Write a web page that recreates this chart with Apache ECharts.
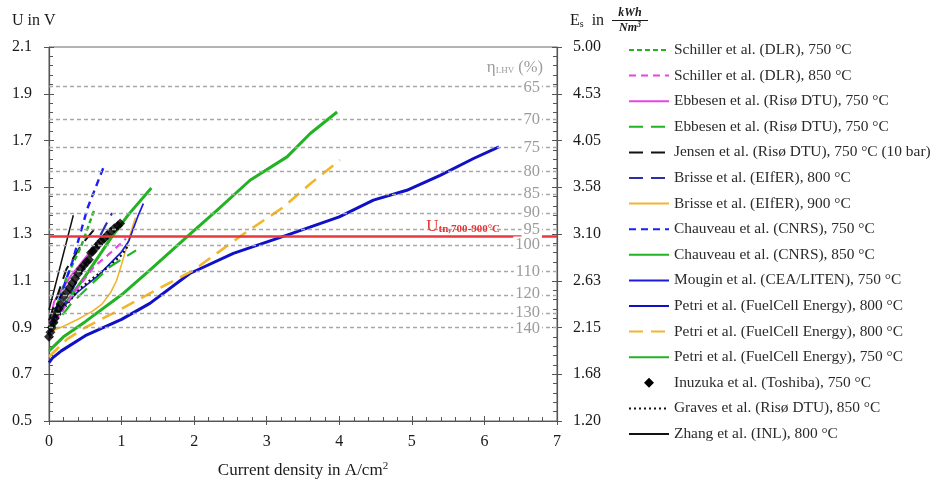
<!DOCTYPE html>
<html>
<head>
<meta charset="utf-8">
<script src="https://cdn.jsdelivr.net/npm/echarts@6/dist/echarts.min.js"></script>
<style>
  html, body { margin: 0; padding: 0; background: #fff; }
  #chart { width: 938px; height: 484px; }
</style>
</head>
<body>
<div id="chart"></div>
<script>
const FONT = '"Liberation Serif", "DejaVu Serif", serif';

// Right axis: specific energy demand labels (kWh/Nm³) at each voltage tick
const energyTickLabels = ['1.20', '1.68', '2.15', '2.63', '3.10', '3.58', '4.05', '4.53', '5.00'];

// LHV efficiency guide lines: label (%) and the matching cell voltage
const effLabels = ['65', '70', '75', '80', '85', '90', '95', '100', '110', '120', '130', '140'];
const effVoltages = [1.928, 1.790, 1.671, 1.566, 1.474, 1.392, 1.319, 1.253, 1.139, 1.044, 0.964, 0.895];

// Thermoneutral voltage band 700-900 °C
const thermoneutralVoltage = 1.288;

// Polarisation curves: [current density A/cm², cell voltage V]
const schiller750  = [[0, 0.90], [0.25, 1.12], [0.44, 1.245], [0.62, 1.40]];
const schiller850  = [[0, 0.88], [0.3, 1.03], [0.62, 1.16], [0.85, 1.22], [1.06, 1.28]];
const ebbesenSolid = [[0, 0.90], [0.07, 1.01], [0.3, 1.12], [0.53, 1.21], [0.67, 1.25]];
const ebbesenDash  = [[0, 0.88], [0.3, 1.0], [0.6, 1.09], [0.84, 1.16], [1.2, 1.23]];
const jensen       = [[0, 0.93], [0.24, 1.15], [0.45, 1.255], [0.65, 1.33]];
const brisse800    = [[0, 0.88], [0.3, 1.05], [0.55, 1.2], [0.7, 1.29], [0.87, 1.39]];
const brisse900    = [[0, 0.88], [0.2, 0.905], [0.4, 0.935], [0.6, 0.97], [0.73, 1.0], [0.85, 1.05],
                      [0.93, 1.1], [1.0, 1.17], [1.07, 1.245], [1.13, 1.31], [1.19, 1.37]];
const chauveau750  = [[0, 0.87], [0.12, 1.0], [0.32, 1.18], [0.53, 1.41], [0.77, 1.6]];
const chauveau850  = [[0, 0.92], [0.2, 0.99], [0.5, 1.12], [0.87, 1.29], [1.1, 1.385], [1.41, 1.497]];
const mougin       = [[0, 0.87], [0.08, 0.945], [0.2, 0.99], [0.39, 1.05], [0.67, 1.12], [0.99, 1.22],
                      [1.1, 1.27], [1.17, 1.33], [1.23, 1.38], [1.3, 1.43]];
const petri800     = [[0, 0.75], [0.05, 0.77], [0.17, 0.80], [0.5, 0.865], [1.0, 0.935], [1.39, 1.003],
                      [1.94, 1.131], [2.54, 1.217], [3.28, 1.295], [4.0, 1.373], [4.47, 1.445],
                      [4.93, 1.487], [5.39, 1.551], [5.85, 1.623], [6.2, 1.673]];
const petri800Dash = [[0, 0.775], [0.25, 0.85], [0.5, 0.90], [1.0, 0.98], [1.39, 1.046], [1.99, 1.145],
                      [2.68, 1.30], [3.23, 1.415], [3.6, 1.515], [4.01, 1.616]];
const petri750     = [[0, 0.80], [0.2, 0.86], [0.5, 0.925], [1.0, 1.04], [1.39, 1.145], [1.9, 1.288],
                      [2.31, 1.40], [2.77, 1.53], [3.28, 1.63], [3.6, 1.73], [3.97, 1.822]];
const inuzuka      = [[0, 0.86], [0.02, 0.88], [0.04, 0.90], [0.06, 0.92], [0.08, 0.94], [0.1, 0.96],
                      [0.13, 0.98], [0.16, 1.0], [0.2, 1.03], [0.24, 1.05], [0.28, 1.07], [0.32, 1.09],
                      [0.36, 1.11], [0.4, 1.13], [0.44, 1.15], [0.48, 1.165], [0.52, 1.18], [0.55, 1.19],
                      [0.58, 1.22], [0.6, 1.225], [0.64, 1.24], [0.68, 1.255], [0.72, 1.27], [0.76, 1.28],
                      [0.8, 1.295], [0.85, 1.31], [0.9, 1.325], [0.95, 1.335], [0.98, 1.345]];
const graves       = [[0, 0.88], [0.2, 0.98], [0.4, 1.06], [0.6, 1.11], [0.8, 1.155], [1.0, 1.21], [1.1, 1.255]];
const zhang        = [[0, 0.975], [0.17, 1.18], [0.335, 1.38]];

// Legend entries in display order
const legendKeys = ['schiller750', 'schiller850', 'ebbesenSolid', 'ebbesenDash', 'jensen', 'brisse800',
  'brisse900', 'chauveau750', 'chauveau850', 'mougin', 'petri800', 'petri800Dash', 'petri750',
  'inuzuka', 'graves', 'zhang'];
const legendLabels = [
  'Schiller et al. (DLR), 750 °C',
  'Schiller et al. (DLR), 850 °C',
  'Ebbesen et al. (Risø DTU), 750 °C',
  'Ebbesen et al. (Risø DTU), 750 °C',
  'Jensen et al. (Risø DTU), 750 °C (10 bar)',
  'Brisse et al. (EIfER), 800 °C',
  'Brisse et al. (EIfER), 900 °C',
  'Chauveau et al. (CNRS), 750 °C',
  'Chauveau et al. (CNRS), 850 °C',
  'Mougin et al. (CEA/LITEN), 750 °C',
  'Petri et al. (FuelCell Energy), 800 °C',
  'Petri et al. (FuelCell Energy), 800 °C',
  'Petri et al. (FuelCell Energy), 750 °C',
  'Inuzuka et al. (Toshiba), 750 °C',
  'Graves et al. (Risø DTU), 850 °C',
  'Zhang et al. (INL), 800 °C'
];

const GREEN = '#22b322', MAGENTA = '#e645e6', BLACK = '#111111', NAVY = '#2e2ea8',
      GOLD = '#f2b52c', BLUE = '#1d1dff', BLUE2 = '#1c1cd8', BLUE3 = '#1010c8';
const LONG = [14, 8], MED = [7, 5], SHORT = [5, 3];

function curve(name, data, color, width, type) {
  return {
    name, type: 'line', data, symbol: 'none', smooth: false,
    lineStyle: { color, width, type: type || 'solid', join: 'round' },
    itemStyle: { color },
    emphasis: { disabled: true }, animation: false, z: 3
  };
}

const chart = echarts.init(document.getElementById('chart'));
const axisColor = '#555';
const labelStyle = { fontFamily: FONT, fontSize: 16, color: '#1a1a1a' };

// Diamond marker used for the Toshiba legend entry (kept square)
const diamondIcon = 'path://M5,0L10,5L5,10L0,5Z';

chart.setOption({
  animation: false,
  grid: { left: 49, right: 381, top: 47, bottom: 63, show: true, borderColor: '#666', borderWidth: 1 },
  xAxis: [
    {
      type: 'value', min: 0, max: 7, interval: 1, position: 'bottom',
      name: '{t|Current density in A/cm}{s|2}', nameLocation: 'middle', nameGap: 40,
      nameTextStyle: { rich: { t: { fontFamily: FONT, fontSize: 17, color: '#1a1a1a' },
                               s: { fontFamily: FONT, fontSize: 11, color: '#1a1a1a', verticalAlign: 'top', padding: [0, 0, 8, 0] } } },
      axisLine: { show: true, lineStyle: { color: axisColor, width: 1.2 } },
      axisTick: { show: true, inside: true, length: 5, lineStyle: { color: axisColor } },
      minorTick: { show: true, splitNumber: 5, length: 4, lineStyle: { color: axisColor } },
      axisLabel: Object.assign({ margin: 13 }, labelStyle),
      splitLine: { show: false }, minorSplitLine: { show: false }
    },
    {
      type: 'value', min: 0, max: 7, interval: 1, position: 'bottom',
      axisLine: { show: false }, axisLabel: { show: false }, splitLine: { show: false },
      axisTick: { show: true, inside: false, length: 4, lineStyle: { color: axisColor } }
    }
  ],
  yAxis: [
    {
      type: 'value', min: 0.5, max: 2.1, interval: 0.2, position: 'left',
      axisLine: { show: true, lineStyle: { color: axisColor, width: 1.2 } },
      axisTick: { show: true, inside: true, length: 5, lineStyle: { color: axisColor } },
      minorTick: { show: true, splitNumber: 5, length: 4, lineStyle: { color: axisColor } },
      axisLabel: Object.assign({ margin: 17, formatter: v => v.toFixed(1) }, labelStyle),
      splitLine: { show: false }, minorSplitLine: { show: false }
    },
    {
      type: 'value', min: 0.5, max: 2.1, interval: 0.2, position: 'left',
      axisLine: { show: false }, axisLabel: { show: false }, splitLine: { show: false },
      axisTick: { show: true, inside: false, length: 5, lineStyle: { color: axisColor } }
    },
    {
      type: 'value', min: 0.5, max: 2.1, interval: 0.2, position: 'right',
      axisLine: { show: true, lineStyle: { color: axisColor, width: 1.2 } },
      axisTick: { show: true, inside: true, length: 5, lineStyle: { color: axisColor } },
      minorTick: { show: true, splitNumber: 5, length: 4, lineStyle: { color: axisColor } },
      axisLabel: Object.assign({ margin: 16,
        formatter: v => energyTickLabels[Math.round((v - 0.5) / 0.2)] }, labelStyle),
      splitLine: { show: false }, minorSplitLine: { show: false }
    },
    {
      type: 'value', min: 0.5, max: 2.1, interval: 0.2, position: 'right',
      axisLine: { show: false }, axisLabel: { show: false }, splitLine: { show: false },
      axisTick: { show: true, inside: false, length: 5, lineStyle: { color: axisColor } }
    }
  ],
  legend: {
    orient: 'vertical', left: 623, top: 37,
    itemWidth: 40, itemHeight: 10, itemGap: 9.6,
    symbolKeepAspect: true,
    itemStyle: { opacity: 0 },
    data: legendKeys.map(k => k === 'inuzuka'
      ? { name: k, icon: diamondIcon, itemStyle: { opacity: 1, color: '#000' } }
      : { name: k }),
    formatter: k => legendLabels[legendKeys.indexOf(k)],
    textStyle: { fontFamily: FONT, fontSize: 15.4, color: '#2a2a2a', lineHeight: 16 },
    selectedMode: false
  },
  series: [
    {
      name: 'guides', type: 'line', data: [], silent: true, z: 1,
      markLine: {
        silent: true, symbol: ['none', 'none'], animation: false,
        label: { show: false },
        lineStyle: { color: '#a8a8a8', type: [4, 3], width: 1.3 },
        data: effVoltages.map(v => ({ yAxis: v }))
      }
    },
    {
      name: 'thermoneutral', type: 'line', data: [], silent: true, z: 2,
      markLine: {
        silent: true, symbol: ['none', 'none'], animation: false,
        label: { show: false },
        lineStyle: { color: '#e8383d', type: 'solid', width: 2.6 },
        data: [{ yAxis: thermoneutralVoltage }]
      }
    },
    curve('petri800', petri800, BLUE3, 3),
    curve('petri800Dash', petri800Dash, GOLD, 2.6, LONG),
    curve('petri750', petri750, GREEN, 3),
    curve('chauveau850', chauveau850, GREEN, 3),
    curve('brisse900', brisse900, GOLD, 1.6),
    curve('mougin', mougin, BLUE2, 1.7),
    curve('graves', graves, BLACK, 2.4, [2, 3]),
    curve('ebbesenDash', ebbesenDash, GREEN, 2.2, LONG),
    curve('schiller850', schiller850, MAGENTA, 2.2, MED),
    curve('ebbesenSolid', ebbesenSolid, MAGENTA, 2),
    curve('brisse800', brisse800, NAVY, 2.2, LONG),
    curve('jensen', jensen, BLACK, 2, LONG),
    curve('schiller750', schiller750, GREEN, 2.4, SHORT),
    curve('chauveau750', chauveau750, BLUE, 2.4, MED),
    {
      name: 'inuzuka', type: 'scatter', data: inuzuka, symbol: 'diamond', symbolSize: 10,
      itemStyle: { color: '#000' }, emphasis: { disabled: true }, z: 4
    },
    curve('zhang', zhang, BLACK, 1.5)
  ]
});

// Text overlays placed through the axes' own scales
const xPix = v => chart.convertToPixel({ xAxisIndex: 0 }, v);
const yPix = v => chart.convertToPixel({ yAxisIndex: 0 }, v);
const labelRight = xPix(7) - 15;
const graphics = [];

effVoltages.forEach((v, i) => {
  graphics.push({
    type: 'text', x: labelRight, y: yPix(v), z: 10, silent: true,
    style: { text: effLabels[i], fill: '#9c9c9c', font: '16.5px ' + FONT,
             align: 'right', verticalAlign: 'middle', backgroundColor: '#fff', padding: [0, 2, 0, 2] }
  });
});

graphics.push({
  type: 'text', x: labelRight + 1, y: yPix(2.1) + 21, z: 10, silent: true,
  style: {
    text: '{e|η}{s|LHV}{p| (%)}', align: 'right', verticalAlign: 'middle',
    rich: {
      e: { fontFamily: FONT, fontSize: 17, fill: '#9c9c9c' },
      s: { fontFamily: FONT, fontSize: 9, fill: '#9c9c9c', padding: [6, 0, 0, 0] },
      p: { fontFamily: FONT, fontSize: 16.5, fill: '#9c9c9c' }
    }
  }
});

graphics.push({
  type: 'text', x: xPix(7) - 57, y: yPix(thermoneutralVoltage) - 2, z: 10, silent: true,
  style: {
    text: '{u|U}{s|tn,700-900°C}', align: 'right', verticalAlign: 'bottom',
    rich: {
      u: { fontFamily: FONT, fontSize: 17, fill: '#e53535' },
      s: { fontFamily: FONT, fontSize: 11, fontWeight: 'bold', fill: '#e53535', padding: [5, 0, 0, 0] }
    }
  }
});

// Axis titles
graphics.push({
  type: 'text', x: 12, y: 21, silent: true,
  style: { text: 'U in V', font: '16px ' + FONT, fill: '#1a1a1a', verticalAlign: 'middle' }
});
graphics.push({
  type: 'text', x: 570, y: 21, silent: true,
  style: {
    text: '{e|E}{s|s}{t|  in}', verticalAlign: 'middle',
    rich: {
      e: { fontFamily: FONT, fontSize: 16, fill: '#1a1a1a' },
      s: { fontFamily: FONT, fontSize: 10, fill: '#1a1a1a', padding: [6, 0, 0, 0] },
      t: { fontFamily: FONT, fontSize: 16, fill: '#1a1a1a' }
    }
  }
});
graphics.push({
  type: 'text', x: 630, y: 13, silent: true,
  style: { text: 'kWh', font: 'italic bold 12px ' + FONT, fill: '#1a1a1a', align: 'center', verticalAlign: 'middle' }
});
graphics.push({
  type: 'line', silent: true,
  shape: { x1: 612, y1: 20.5, x2: 648, y2: 20.5 },
  style: { stroke: '#1a1a1a', lineWidth: 1 }
});
graphics.push({
  type: 'text', x: 630, y: 28, silent: true,
  style: {
    text: '{n|Nm}{s|3}', align: 'center', verticalAlign: 'middle',
    rich: {
      n: { fontFamily: FONT, fontSize: 12, fontStyle: 'italic', fontWeight: 'bold', fill: '#1a1a1a' },
      s: { fontFamily: FONT, fontSize: 8, fontStyle: 'italic', fontWeight: 'bold', fill: '#1a1a1a', padding: [0, 0, 6, 0] }
    }
  }
});

chart.setOption({ graphic: graphics });
</script>
</body>
</html>
